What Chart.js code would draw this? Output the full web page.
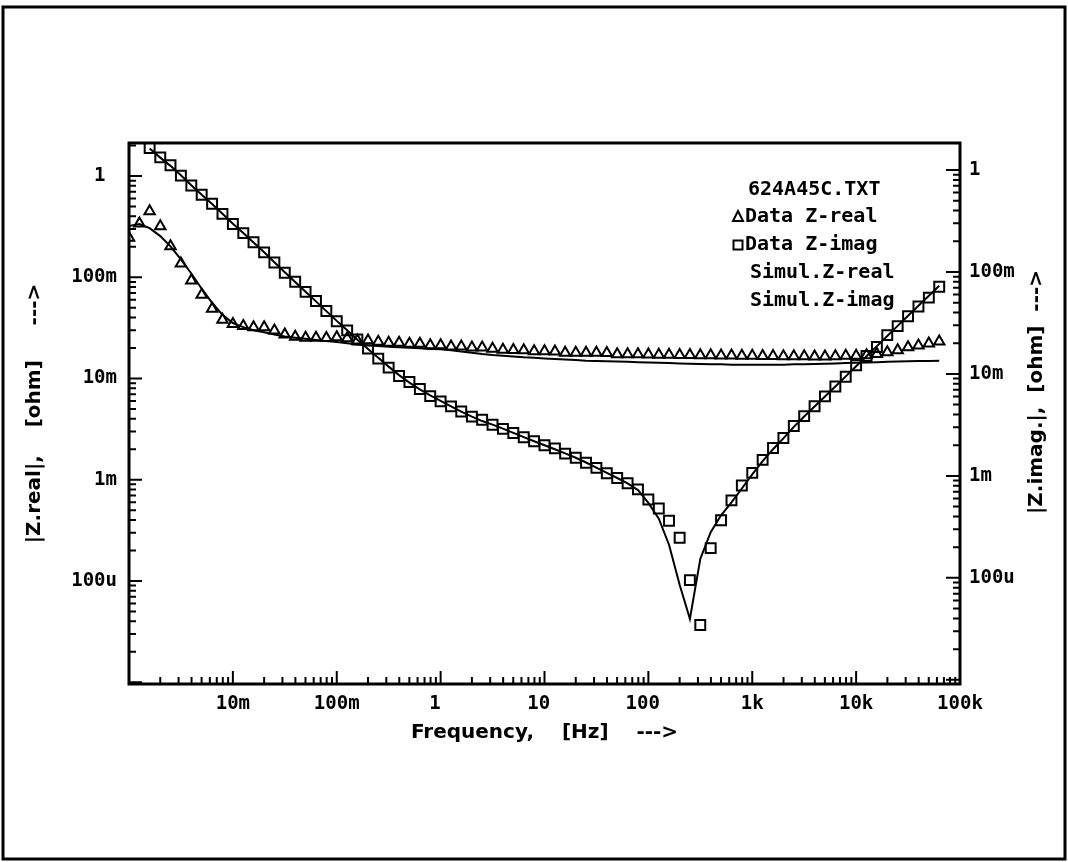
<!DOCTYPE html>
<html><head><meta charset="utf-8">
<style>html,body{margin:0;padding:0;background:#fff;}canvas{display:block;}</style>
<script src="https://cdn.jsdelivr.net/npm/chart.js@4.4.1/dist/chart.umd.min.js"></script>
</head><body>
<canvas id="c" width="1068" height="862"></canvas>
<script>
// Frequencies [Hz], 10 points per decade
const freq = [
0.001,0.00126,0.00158,0.002,0.00251,0.00316,0.00398,0.00501,0.00631,0.00794,
0.01,0.0126,0.0158,0.02,0.0251,0.0316,0.0398,0.0501,0.0631,0.0794,
0.1,0.126,0.158,0.2,0.251,0.316,0.398,0.501,0.631,0.794,
1,1.26,1.58,2,2.51,3.16,3.98,5.01,6.31,7.94,
10,12.6,15.8,20,25.1,31.6,39.8,50.1,63.1,79.4,
100,126,158,200,251,316,398,501,631,794,
1000,1259,1585,1995,2512,3162,3981,5012,6310,7943,
10000,12589,15849,19953,25119,31623,39811,50119,63096];

const zRealData = [
0.245,0.34,0.45,0.319,0.202,0.137,0.0929,0.0673,0.0489,0.038,
0.0345,0.033,0.0321,0.032,0.0298,0.0272,0.0259,0.0252,0.0252,0.0251,
0.0256,0.025,0.0238,0.0237,0.0231,0.0226,0.0225,0.022,0.022,0.0213,
0.0213,0.0207,0.0207,0.0202,0.0202,0.0197,0.0192,0.0191,0.019,0.0186,
0.0186,0.0185,0.018,0.018,0.018,0.018,0.0179,0.0174,0.0174,0.0174,
0.0173,0.0172,0.0172,0.0171,0.0171,0.017,0.017,0.0169,0.0169,0.0168,
0.0168,0.0167,0.0167,0.0166,0.0166,0.0166,0.0165,0.0165,0.0166,0.0168,
0.0168,0.017,0.0175,0.0182,0.019,0.0203,0.0212,0.0222,0.0232];

const zImagData = [
null,null,1.89,1.53,1.28,1.01,0.805,0.653,0.532,0.423,
0.336,0.273,0.222,0.176,0.14,0.111,0.0904,0.0718,0.0583,0.0464,
0.0368,0.0299,0.0243,0.0198,0.0157,0.0128,0.0106,0.00925,0.00787,0.0067,
0.00595,0.0053,0.00472,0.0042,0.00392,0.00349,0.00318,0.0029,0.00263,0.0024,
0.00219,0.00204,0.00181,0.00165,0.00147,0.00131,0.00116,0.00104,0.000923,0.000803,
0.000638,0.000519,0.000394,0.000267,0.000102,0.0000367,0.000211,0.000398,0.000625,0.000877,
0.00117,0.00157,0.00206,0.00258,0.00339,0.00425,0.00532,0.00666,0.00834,0.0104,
0.0135,0.0167,0.0205,0.0268,0.0329,0.0412,0.0515,0.063,0.0807];

const zRealSim = [
0.321,0.336,0.306,0.255,0.202,0.15,0.109,0.0771,0.056,0.0425,
0.0353,0.0322,0.03,0.0286,0.0272,0.026,0.0253,0.0247,0.024,0.0234,
0.0229,0.0223,0.0217,0.0212,0.0209,0.0206,0.0204,0.0201,0.0199,0.0196,
0.0194,0.019,0.0185,0.018,0.0175,0.0171,0.0168,0.0165,0.0162,0.016,
0.0158,0.0156,0.0154,0.0152,0.015,0.0149,0.0148,0.0147,0.0146,0.0145,
0.0144,0.0143,0.0142,0.0141,0.014,0.0139,0.0138,0.0138,0.0137,0.0137,
0.0137,0.0137,0.0137,0.0137,0.0138,0.0138,0.0139,0.014,0.0141,0.0142,
0.0143,0.0144,0.0145,0.0146,0.0147,0.0148,0.0149,0.0149,0.015];

const zImagSim = [
null,null,1.87,1.52,1.26,1.02,0.81,0.655,0.53,0.425,
0.338,0.273,0.221,0.177,0.141,0.112,0.0899,0.0718,0.0578,0.0463,
0.0371,0.0299,0.0242,0.0196,0.016,0.0131,0.0108,0.0091,0.0078,0.0068,
0.006,0.0053,0.0047,0.0042,0.0038,0.0035,0.0032,0.0029,0.00264,0.0024,
0.00219,0.002,0.00182,0.00165,0.00148,0.00132,0.00117,0.00104,0.00092,0.00079,
0.00059,0.000413,0.000228,0.0000916,0.0000422,0.000165,0.000303,0.000445,0.000597,0.000819,
0.00113,0.00153,0.002,0.00256,0.00333,0.00422,0.0053,0.00665,0.00835,0.0105,
0.0132,0.0166,0.0209,0.0263,0.0331,0.0416,0.0523,0.0657,0.0826];

const xMajorValues = [0.01,0.1,1,10,100,1000,10000,100000];
const xMajorLabels = ['10m','100m','1 ','10 ','100 ','1k','10k','100k'];
const yMajorValues = [0.0001,0.001,0.01,0.1,1];
const yMajorLabels = ['100u','1m','10m','100m','1 '];
const xDecades = [-3,-2,-1,0,1,2,3,4,5];
const yDecades = [-5,-4,-3,-2,-1,0];

const fileName = '624A45C.TXT';
const seriesNames = ['Data Z-real','Data Z-imag','Simul.Z-real','Simul.Z-imag'];
const xTitle = 'Frequency,    [Hz]    --->';
const yTitle = '|Z.real|,    [ohm]     --->';
const y2Title = '|Z.imag.|,  [ohm]  --->';

function buildTicks(decades, maxV) {
  const t = [];
  decades.forEach(e => {
    for (let m = 1; m <= 9; m++) {
      const v = Number((m * Math.pow(10, e)).toPrecision(3));
      if (v <= maxV * 1.0001) t.push({value: v, major: m === 1});
    }
  });
  return t;
}
function labelFor(v, vals, labs) {
  const i = vals.findIndex(m => Math.abs(Math.log10(m) - Math.log10(v)) < 1e-6);
  return i >= 0 ? labs[i] : '';
}
const pts = arr => freq.map((f, i) => ({x: f, y: arr[i]})).filter(p => p.y !== null);

const tickFont = {family: "'DejaVu Sans Mono', monospace", weight: 'bold', size: 19};
const titleFont = {family: "'DejaVu Sans', sans-serif", weight: 'bold', size: 20};

const decor = {
  id: 'decor',
  afterDraw(chart) {
    const ctx = chart.ctx;
    const a = chart.chartArea;
    ctx.save();
    ctx.strokeStyle = '#000';
    ctx.fillStyle = '#000';
    // outer frame
    ctx.lineWidth = 3;
    ctx.strokeRect(3, 7, 1062, 852);
    // plot frame
    ctx.strokeRect(a.left, a.top, a.right - a.left, a.bottom - a.top);
    // inward ticks
    ctx.lineWidth = 2;
    const sx = chart.scales.x, sy = chart.scales.y, sy2 = chart.scales.y2;
    ctx.beginPath();
    sx.ticks.forEach(t => {
      const p = sx.getPixelForValue(t.value);
      const len = t.major ? 13 : 7;
      ctx.moveTo(p, a.bottom); ctx.lineTo(p, a.bottom - len);
    });
    sy.ticks.forEach(t => {
      const p = sy.getPixelForValue(t.value);
      const len = t.major ? 13 : 7;
      ctx.moveTo(a.left, p); ctx.lineTo(a.left + len, p);
    });
    sy2.ticks.forEach(t => {
      const p = sy2.getPixelForValue(t.value);
      const len = t.major ? 14 : 7;
      ctx.moveTo(a.right, p); ctx.lineTo(a.right - len, p);
    });
    ctx.stroke();
    // right axis title
    ctx.font = 'bold 20px "DejaVu Sans", sans-serif';
    ctx.textAlign = 'center';
    ctx.textBaseline = 'middle';
    ctx.save();
    ctx.translate(1037, 392);
    ctx.rotate(-Math.PI / 2);
    ctx.fillText(y2Title, 0, 0);
    ctx.restore();
    // legend
    ctx.font = 'bold 20px "DejaVu Sans Mono", monospace';
    ctx.textAlign = 'left';
    ctx.fillText(fileName, 748, 190);
    ctx.fillText(seriesNames[0], 745, 217);
    ctx.fillText(seriesNames[1], 745, 245);
    ctx.fillText(seriesNames[2], 750, 273);
    ctx.fillText(seriesNames[3], 750, 301);
    ctx.lineWidth = 2;
    ctx.beginPath();
    ctx.moveTo(738, 211); ctx.lineTo(743, 221); ctx.lineTo(733, 221); ctx.closePath();
    ctx.stroke();
    ctx.strokeRect(733.5, 240.5, 9, 9);
    ctx.restore();
  }
};

new Chart(document.getElementById('c'), {
  type: 'scatter',
  data: {
    datasets: [
      {label: seriesNames[0], data: pts(zRealData), yAxisID: 'y', showLine: false,
       pointStyle: 'triangle', pointRadius: 6, pointBorderWidth: 2,
       pointBorderColor: '#000', pointBackgroundColor: 'rgba(0,0,0,0)'},
      {label: seriesNames[1], data: pts(zImagData), yAxisID: 'y', showLine: false,
       pointStyle: 'rect', pointRadius: 7, pointBorderWidth: 2,
       pointBorderColor: '#000', pointBackgroundColor: 'rgba(0,0,0,0)'},
      {label: seriesNames[2], data: pts(zRealSim), yAxisID: 'y', showLine: true,
       borderColor: '#000', borderWidth: 2, pointRadius: 0, tension: 0, fill: false},
      {label: seriesNames[3], data: pts(zImagSim), yAxisID: 'y', showLine: true,
       borderColor: '#000', borderWidth: 2, pointRadius: 0, tension: 0, fill: false}
    ]
  },
  options: {
    responsive: false,
    animation: false,
    devicePixelRatio: 1,
    events: [],
    layout: {padding: {top: 143, left: 0, right: 0, bottom: 0}},
    plugins: {legend: {display: false}, tooltip: {enabled: false}, title: {display: false}},
    scales: {
      x: {
        type: 'logarithmic', position: 'bottom', min: 0.001, max: 100000,
        grid: {display: false, drawTicks: false},
        border: {display: false},
        afterBuildTicks: s => { s.ticks = buildTicks(xDecades, 100000); },
        afterFit: s => { s.height = 178; },
        ticks: {autoSkip: false, maxRotation: 0, minRotation: 0, padding: 9, color: '#000', font: tickFont,
                callback: v => labelFor(v, xMajorValues, xMajorLabels)},
        title: {display: true, text: xTitle, color: '#000', font: titleFont, padding: {top: 0, bottom: 117}}
      },
      y: {
        type: 'logarithmic', position: 'left', min: 9.6e-6, max: 2.12,
        grid: {display: false, drawTicks: false},
        border: {display: false},
        afterBuildTicks: s => { s.ticks = buildTicks(yDecades, 2.12); },
        afterFit: s => { s.width = 129; },
        ticks: {autoSkip: false, padding: 12, color: '#000', font: tickFont,
                callback: v => labelFor(v, yMajorValues, yMajorLabels)},
        title: {display: true, text: yTitle, color: '#000', font: titleFont, padding: {top: 23, bottom: 0}}
      },
      y2: {
        type: 'logarithmic', position: 'right', min: 9.1e-6, max: 1.84,
        grid: {display: false, drawTicks: false},
        border: {display: false},
        afterBuildTicks: s => { s.ticks = buildTicks(yDecades, 1.84); },
        afterFit: s => { s.width = 108; },
        ticks: {autoSkip: false, padding: 9, color: '#000', font: tickFont,
                callback: v => labelFor(v, yMajorValues, yMajorLabels)}
      }
    }
  },
  plugins: [decor]
});
</script>
</body></html>
